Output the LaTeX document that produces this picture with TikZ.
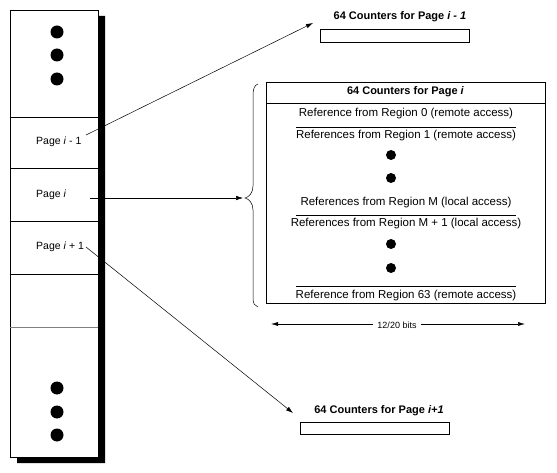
\documentclass[tikz,border=0pt]{standalone}
\usepackage{fontspec}
\setmainfont{Liberation Sans}
\usetikzlibrary{arrows.meta}
\tikzset{
  rowtext/.style={inner sep=0pt, font=\fontsize{11.5}{13}\selectfont},
  pagelabel/.style={inner sep=0pt, anchor=west, font=\fontsize{10.5}{12}\selectfont},
  headtext/.style={inner sep=0pt, font=\fontsize{11}{13}\selectfont\bfseries},
  bigdot/.style={fill=black, circle, inner sep=0pt, minimum size=13pt},
  smalldot/.style={fill=black, circle, inner sep=0pt, minimum size=10pt},
  sep/.style={line width=0.6pt},
  conn/.style={line width=0.5pt, -{Latex[length=7pt,width=4.5pt]}},
}
\begin{document}
\begin{tikzpicture}[x=1pt,y=-1pt]
\useasboundingbox (0,0) rectangle (557,473);
% left column
\fill[black] (98,16) -- (105,16) -- (105,463) -- (17,463) -- (17,457) -- (98,457) -- cycle;
\draw[line width=0.6pt] (10,10) rectangle (98,457);
\draw[sep] (10,117) -- (98,117);
\draw[sep] (10,168) -- (98,168);
\draw[sep] (10,221) -- (98,221);
\draw[sep] (10,274) -- (98,274);
\draw[sep, gray] (10,327) -- (98,327);
\node[bigdot] (td1) at (57,32) {};
\node[bigdot] (td2) at (57,55) {};
\node[bigdot] (td3) at (57,79) {};
\node[bigdot] (bd1) at (57,388) {};
\node[bigdot] (bd2) at (57,412) {};
\node[bigdot] (bd3) at (57,435) {};
\node[pagelabel] (pm) at (36,142) {Page \textit{i} - 1};
\node[pagelabel] (pi) at (36,195) {Page \textit{i}};
\node[pagelabel] (pp) at (36,247) {Page \textit{i} + 1};
% top small box
\node[headtext] (tt) at (400,17) {64 Counters for Page \textit{i - 1}};
\draw[line width=0.6pt] (320,29) rectangle (469,42);
\coordinate (ttip) at (313,23);
% bottom small box
\node[headtext] (bt) at (379,411) {64 Counters for Page \textit{i+1}};
\draw[line width=0.6pt] (300,422) rectangle (449,434);
\coordinate (btip) at (293,413);
% big box
\draw[line width=0.6pt] (266,82) rectangle (545,303);
\draw[line width=0.6pt] (266,103) -- (545,103);
\node[headtext] (head) at (405.5,92) {64 Counters for Page \textit{i}};
\node[rowtext] (r0) at (406,114) {Reference from Region 0 (remote access)};
\draw[sep] (296,127) -- (516,127);
\node[rowtext] (r1) at (406,135.5) {References from Region 1 (remote access)};
\node[smalldot] (d1) at (391,155) {};
\node[smalldot] (d2) at (391,178) {};
\node[rowtext] (rm) at (406,202.5) {References from Region M (local access)};
\draw[sep] (296,215) -- (516,215);
\node[rowtext] (rm1) at (406,223.5) {References from Region M + 1 (local access)};
\node[smalldot] (d3) at (391,244) {};
\node[smalldot] (d4) at (391,268) {};
\draw[sep] (296,286) -- (516,286);
\node[rowtext] (r63) at (406,296) {Reference from Region 63 (remote access)};
% brace
\coordinate (btipb) at (245,198);
\draw[line width=0.5pt] (258,84) .. controls (255,85) and (253,88) .. (253,95) -- (253,186)
  .. controls (253,193) and (249,197) .. (btipb)
  .. controls (249,199) and (253,203) .. (253,210) -- (253,298)
  .. controls (253,304) and (255,306) .. (258,307);
% width arrow
\coordinate (wl) at (271,324);
\coordinate (wr) at (525,324);
\draw[line width=0.5pt, {Latex[length=7pt,width=4pt]}-{Latex[length=7pt,width=4pt]}] (wl) -- (wr);
\node[fill=white, inner xsep=4pt, inner ysep=1pt, font=\fontsize{9}{10}\selectfont] (bits) at (397,325) {12/20 bits};
% connectors
\coordinate (sm) at (86,135);
\coordinate (si) at (90,198);
\coordinate (sp) at (86,247);
\coordinate (itip) at (243,198);
\draw[conn] (sm) -- (ttip);
\draw[conn] (si) -- (itip);
\draw[conn] (sp) -- (btip);
\end{tikzpicture}
\end{document}
